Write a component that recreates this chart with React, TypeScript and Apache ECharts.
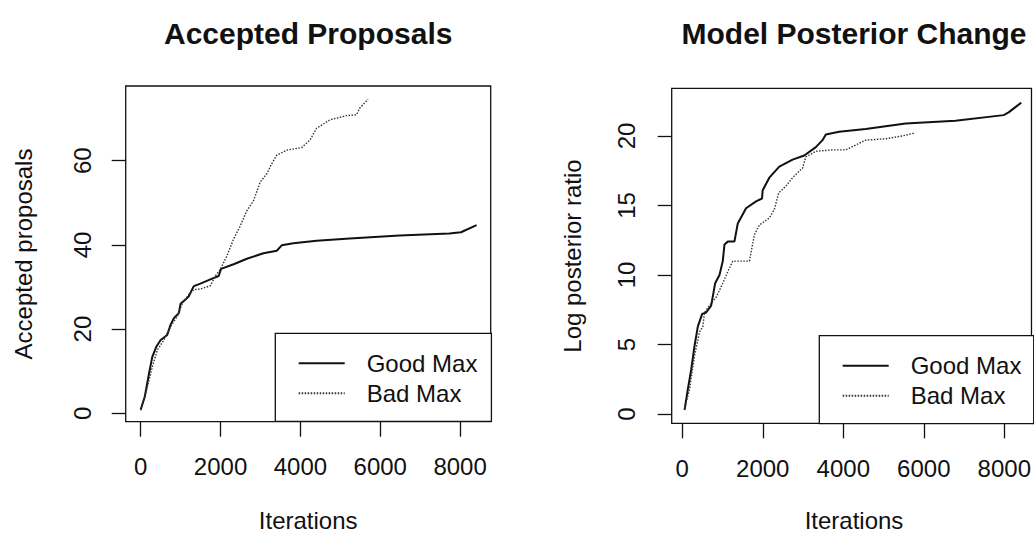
import React, { useEffect, useRef } from "react";
import * as echarts from "echarts";

// Accepted proposals vs iterations
const goodAccIter = [0, 100, 208, 291, 391, 500, 665, 748, 831, 956, 998, 1122, 1205, 1330, 1496, 1746, 1954, 2012, 2328, 2660, 3076, 3409, 3533, 3824, 4406, 5237, 6484, 7731, 8022, 8413];
const goodAccVal = [0.9, 3.8, 9.4, 13.4, 15.8, 17.4, 18.6, 21.0, 22.6, 23.8, 26.0, 27.0, 27.8, 30.2, 30.8, 31.8, 32.6, 34.3, 35.4, 36.7, 38.0, 38.6, 39.9, 40.4, 41.0, 41.5, 42.2, 42.7, 43.0, 44.7];
const badAccIter = [0, 166, 291, 416, 582, 748, 915, 1039, 1205, 1330, 1496, 1746, 1870, 1995, 2161, 2328, 2494, 2660, 2826, 2993, 3159, 3284, 3409, 3658, 4032, 4240, 4406, 4739, 5154, 5404, 5487, 5695];
const badAccVal = [0.7, 6.2, 11.0, 15.0, 17.4, 20.6, 23.0, 26.0, 28.2, 29.4, 29.5, 30.3, 32.6, 34.2, 37.4, 41.4, 44.5, 48.1, 50.5, 54.9, 56.9, 59.3, 61.3, 62.5, 63.1, 64.9, 67.7, 69.7, 70.7, 70.9, 72.5, 74.6];

// Log posterior ratio vs iterations
const goodPostIter = [58, 140, 223, 305, 388, 495, 594, 718, 817, 925, 1007, 1049, 1131, 1296, 1379, 1585, 1833, 1981, 1998, 2163, 2411, 2741, 3030, 3319, 3484, 3567, 3897, 4557, 5548, 6786, 7984, 8107, 8421];
const goodPostVal = [0.3, 1.8, 3.2, 4.9, 6.3, 7.2, 7.3, 7.8, 9.4, 10.0, 11.0, 12.2, 12.4, 12.4, 13.7, 14.8, 15.3, 15.5, 16.1, 17.0, 17.8, 18.3, 18.6, 19.2, 19.7, 20.1, 20.3, 20.5, 20.9, 21.1, 21.5, 21.7, 22.4];
const badPostIter = [58, 182, 305, 429, 512, 553, 677, 842, 1007, 1156, 1255, 1668, 1792, 1916, 2163, 2287, 2394, 2576, 2741, 2989, 3071, 3319, 3732, 4062, 4557, 5053, 5465, 5754];
const badPostVal = [0.4, 1.8, 4.2, 5.9, 6.3, 7.3, 7.8, 8.4, 9.4, 10.4, 11.0, 11.0, 12.9, 13.6, 14.1, 14.7, 15.9, 16.4, 17.0, 17.7, 18.5, 18.9, 19.0, 19.0, 19.7, 19.8, 20.0, 20.2];

const iterTicks = [0, 2000, 4000, 6000, 8000];
const accTicks = [0, 20, 40, 60];
const postTicks = [0, 5, 10, 15, 20];

const seriesNames = ["Good Max", "Bad Max"];
const titles = ["Accepted Proposals", "Model Posterior Change"];
const yNames = ["Accepted proposals", "Log posterior ratio"];
const xName = "Iterations";

const FONT = "'Liberation Sans', Helvetica, Arial, sans-serif";
const INK = "#111";

const pairs = (xs: number[], ys: number[]) => xs.map((x, i) => [x, ys[i]]);
const plain = (v: number) => String(v);

function xAxisFor(gridIndex: number, min: number, max: number) {
  return {
    type: "value",
    gridIndex,
    min,
    max,
    axisLine: { show: false, onZero: false },
    splitLine: { show: false },
    axisTick: { show: true, length: 15, customValues: iterTicks, lineStyle: { color: INK, width: 1.3 } },
    axisLabel: { customValues: iterTicks, formatter: plain, margin: 33, fontSize: 24, color: INK, fontFamily: FONT },
  };
}

function yAxisFor(gridIndex: number, min: number, max: number, ticks: number[], margin: number) {
  return {
    type: "value",
    gridIndex,
    min,
    max,
    axisLine: { show: false, onZero: false },
    splitLine: { show: false },
    axisTick: { show: true, length: 14, customValues: ticks, lineStyle: { color: INK, width: 1.3 } },
    axisLabel: { customValues: ticks, formatter: plain, rotate: 90, margin, fontSize: 24, color: INK, fontFamily: FONT },
  };
}

function lineSeries(name: string, data: number[][], axisIndex: number, dotted: boolean) {
  return {
    type: "line",
    name,
    data,
    xAxisIndex: axisIndex,
    yAxisIndex: axisIndex,
    symbol: "none",
    itemStyle: { color: "rgba(0,0,0,0)" },
    lineStyle: dotted
      ? { color: "#333", width: 1.4, type: [1.5, 1.5] }
      : { color: INK, width: 2 },
    z: 3,
  };
}

function legendAt(left: number, top: number, rightPad: number) {
  return {
    data: seriesNames,
    orient: "vertical",
    left,
    top,
    padding: [18, rightPad, 16, 22.4],
    itemWidth: 46,
    itemHeight: 14,
    itemGap: 6,
    selectedMode: false,
    backgroundColor: "#fff",
    borderColor: INK,
    borderWidth: 1.3,
    itemStyle: { opacity: 0 },
    textStyle: { fontSize: 24, color: INK, fontFamily: FONT, padding: [0, 0, 0, 17] },
  };
}

function textEl(text: string, x: number, y: number, opts: any = {}) {
  return {
    type: "text",
    x,
    y,
    rotation: opts.rotation || 0,
    style: {
      text,
      fill: INK,
      font: `${opts.bold ? "bold " : ""}${opts.size || 24}px ${FONT}`,
      textAlign: "center",
      textVerticalAlign: "middle",
    },
  };
}

export default function App() {
  const ref = useRef<HTMLDivElement>(null);

  useEffect(() => {
    if (!ref.current) return;
    const chart = echarts.init(ref.current, null, { renderer: "svg" });
    chart.setOption({
      animation: false,
      backgroundColor: "#fff",
      grid: [
        { left: 125.7, top: 86, width: 365, height: 335.7, show: true, borderColor: INK, borderWidth: 1.3, backgroundColor: "transparent" },
        { left: 671.7, top: 88.3, width: 361.3, height: 335, show: true, borderColor: INK, borderWidth: 1.3, backgroundColor: "transparent" },
      ],
      xAxis: [xAxisFor(0, -375, 8767), xAxisFor(1, -262, 8675)],
      yAxis: [
        yAxisFor(0, -2.0, 77.74, accTicks, 31),
        yAxisFor(1, -0.67, 23.43, postTicks, 33),
      ],
      legend: [legendAt(275.3, 333.3, 14), legendAt(819.3, 335.7, 12.3)],
      series: [
        lineSeries(seriesNames[0], pairs(goodAccIter, goodAccVal), 0, false),
        lineSeries(seriesNames[1], pairs(badAccIter, badAccVal), 0, true),
        lineSeries(seriesNames[0], pairs(goodPostIter, goodPostVal), 1, false),
        lineSeries(seriesNames[1], pairs(badPostIter, badPostVal), 1, true),
      ],
      graphic: [
        textEl(titles[0], 308.2, 33, { bold: true, size: 30 }),
        textEl(titles[1], 854, 33, { bold: true, size: 30 }),
        textEl(yNames[0], 23, 254, { rotation: Math.PI / 2 }),
        textEl(yNames[1], 572, 256, { rotation: Math.PI / 2 }),
        textEl(xName, 308.2, 520),
        textEl(xName, 854, 520),
      ],
    });
    return () => chart.dispose();
  }, []);

  return (
    <div
      ref={ref}
      style={{ position: "fixed", left: 0, top: 0, width: 1034, height: 538, background: "#fff" }}
    />
  );
}
